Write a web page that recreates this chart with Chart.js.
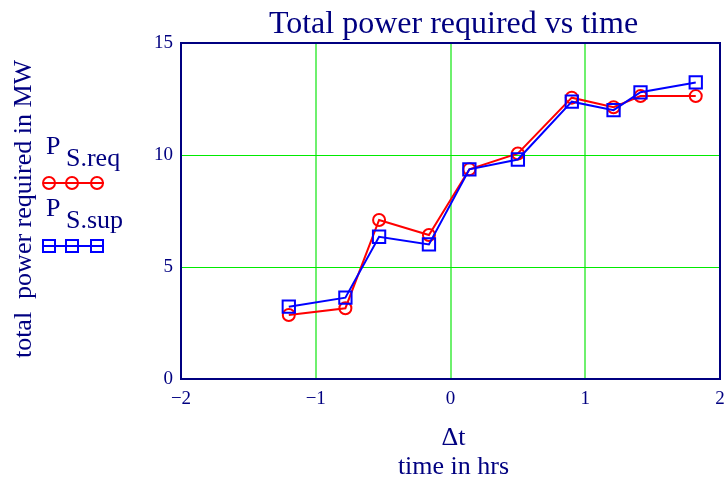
<!DOCTYPE html>
<html><head><meta charset="utf-8">
<script src="https://cdn.jsdelivr.net/npm/chart.js@4"></script>
<style>html,body{margin:0;padding:0;background:#fff;}canvas{display:block;}</style>
</head><body>
<canvas id="c" width="726" height="479"></canvas>
<script>
// ---- data ----
const timeHrs  = [-1.20, -0.78, -0.53, -0.16, 0.14, 0.50, 0.90, 1.21, 1.41, 1.82];
const powerReq = [2.86, 3.16, 7.10, 6.43, 9.36, 10.07, 12.56, 12.13, 12.63, 12.63];
const powerSup = [3.23, 3.63, 6.35, 6.01, 9.36, 9.80, 12.38, 12.00, 12.80, 13.24];
const xTickValues = [-2, -1, 0, 1, 2];
const yTickValues = [0, 5, 10, 15];
const titleText = 'Total power required vs time';
const yTitleText = 'total  power required in MW';
const xTitleLines = ['\u0394t', 'time in hrs'];
const seriesMain = ['P', 'P'];
const seriesSub = ['S.req', 'S.sup'];

const NAVY = '#000080';
const GRID_X = 'rgb(110,240,110)';
const GRID_Y = 'rgb(0,235,0)';
const RED = '#ff0000';
const BLUE = '#0000ff';
const FONT = '"Liberation Serif", "Times New Roman", serif';

const toXY = (xs, ys) => xs.map((x, i) => ({x: x, y: ys[i]}));

const decor = {
  id: 'decor',
  beforeDatasetsDraw(chart) {
    const {ctx, chartArea: a} = chart;
    ctx.save();
    ctx.strokeStyle = NAVY; ctx.lineWidth = 2;
    ctx.strokeRect(a.left, a.top, a.right - a.left, a.bottom - a.top);
    ctx.restore();
  },
  afterDraw(chart) {
    const {ctx, chartArea: a} = chart;
    const cx0 = (a.left + a.right) / 2 + 3;
    ctx.save();
    ctx.fillStyle = NAVY;
    // title
    ctx.font = '32px ' + FONT;
    ctx.textAlign = 'center'; ctx.textBaseline = 'alphabetic';
    ctx.fillText(titleText, cx0, 33);
    // x title
    ctx.font = '26px ' + FONT;
    ctx.fillText(xTitleLines[0], cx0, 445);
    ctx.fillText(xTitleLines[1], cx0, 474);
    // y title
    ctx.save();
    ctx.translate(31, 209);
    ctx.rotate(-Math.PI / 2);
    ctx.font = '26px ' + FONT;
    ctx.fillText(yTitleText, 0, 0);
    ctx.restore();
    // legend
    const rows = [
      {base: 154, sub: 166, ly: 183, color: RED, style: 'circle'},
      {base: 216, sub: 228, ly: 246, color: BLUE, style: 'rect'}
    ];
    rows.forEach((r, i) => {
      ctx.fillStyle = NAVY;
      ctx.textAlign = 'left';
      ctx.font = '26px ' + FONT;
      ctx.fillText(seriesMain[i], 46, r.base);
      ctx.fillText(seriesSub[i], 66, r.sub);
      ctx.strokeStyle = r.color; ctx.lineWidth = 2;
      ctx.beginPath(); ctx.moveTo(43, r.ly); ctx.lineTo(104, r.ly); ctx.stroke();
      [49, 72, 97].forEach(cx => {
        ctx.beginPath();
        if (r.style === 'circle') ctx.arc(cx, r.ly, 6, 0, Math.PI * 2);
        else ctx.rect(cx - 6, r.ly - 6, 12, 12);
        ctx.stroke();
      });
    });
    ctx.restore();
  }
};

new Chart(document.getElementById('c'), {
  type: 'line',
  data: {
    datasets: [
      {
        label: 'P S.req', data: toXY(timeHrs, powerReq), order: 1,
        borderColor: RED, backgroundColor: 'rgba(0,0,0,0)', borderWidth: 2,
        pointStyle: 'circle', pointRadius: 6, pointBorderWidth: 2,
        pointBorderColor: RED, pointBackgroundColor: 'rgba(0,0,0,0)', tension: 0
      },
      {
        label: 'P S.sup', data: toXY(timeHrs, powerSup), order: 0,
        borderColor: BLUE, backgroundColor: 'rgba(0,0,0,0)', borderWidth: 2,
        pointStyle: 'rect', pointRadius: 8.7, pointBorderWidth: 2,
        pointBorderColor: BLUE, pointBackgroundColor: 'rgba(0,0,0,0)', tension: 0
      }
    ]
  },
  options: {
    responsive: false, animation: false,
    layout: {autoPadding: false, padding: {top: 43, right: 6, left: 0, bottom: 0}},
    plugins: {legend: {display: false}, title: {display: false}, tooltip: {enabled: false}},
    scales: {
      x: {
        type: 'linear', min: -2, max: 2,
        afterBuildTicks: s => { s.ticks = xTickValues.map(v => ({value: v})); },
        afterFit: s => { s.height = 100; s.paddingLeft = 0; s.paddingRight = 0; },
        grid: {color: GRID_X, lineWidth: 2, drawTicks: false},
        border: {color: NAVY, width: 2},
        ticks: {
          color: NAVY, font: {family: FONT, size: 19}, padding: 9,
          maxRotation: 0, autoSkip: false,
          callback: v => v < 0 ? '\u2212' + Math.abs(v) : String(v)
        }
      },
      y: {
        type: 'linear', min: 0, max: 15,
        afterBuildTicks: s => { s.ticks = yTickValues.map(v => ({value: v})); },
        afterFit: s => { s.width = 181; s.paddingTop = 0; s.paddingBottom = 0; },
        grid: {color: GRID_Y, lineWidth: 1, drawTicks: false},
        border: {color: NAVY, width: 2},
        ticks: {color: NAVY, font: {family: FONT, size: 19}, padding: 8, autoSkip: false}
      }
    }
  },
  plugins: [decor]
});
</script>
</body></html>
